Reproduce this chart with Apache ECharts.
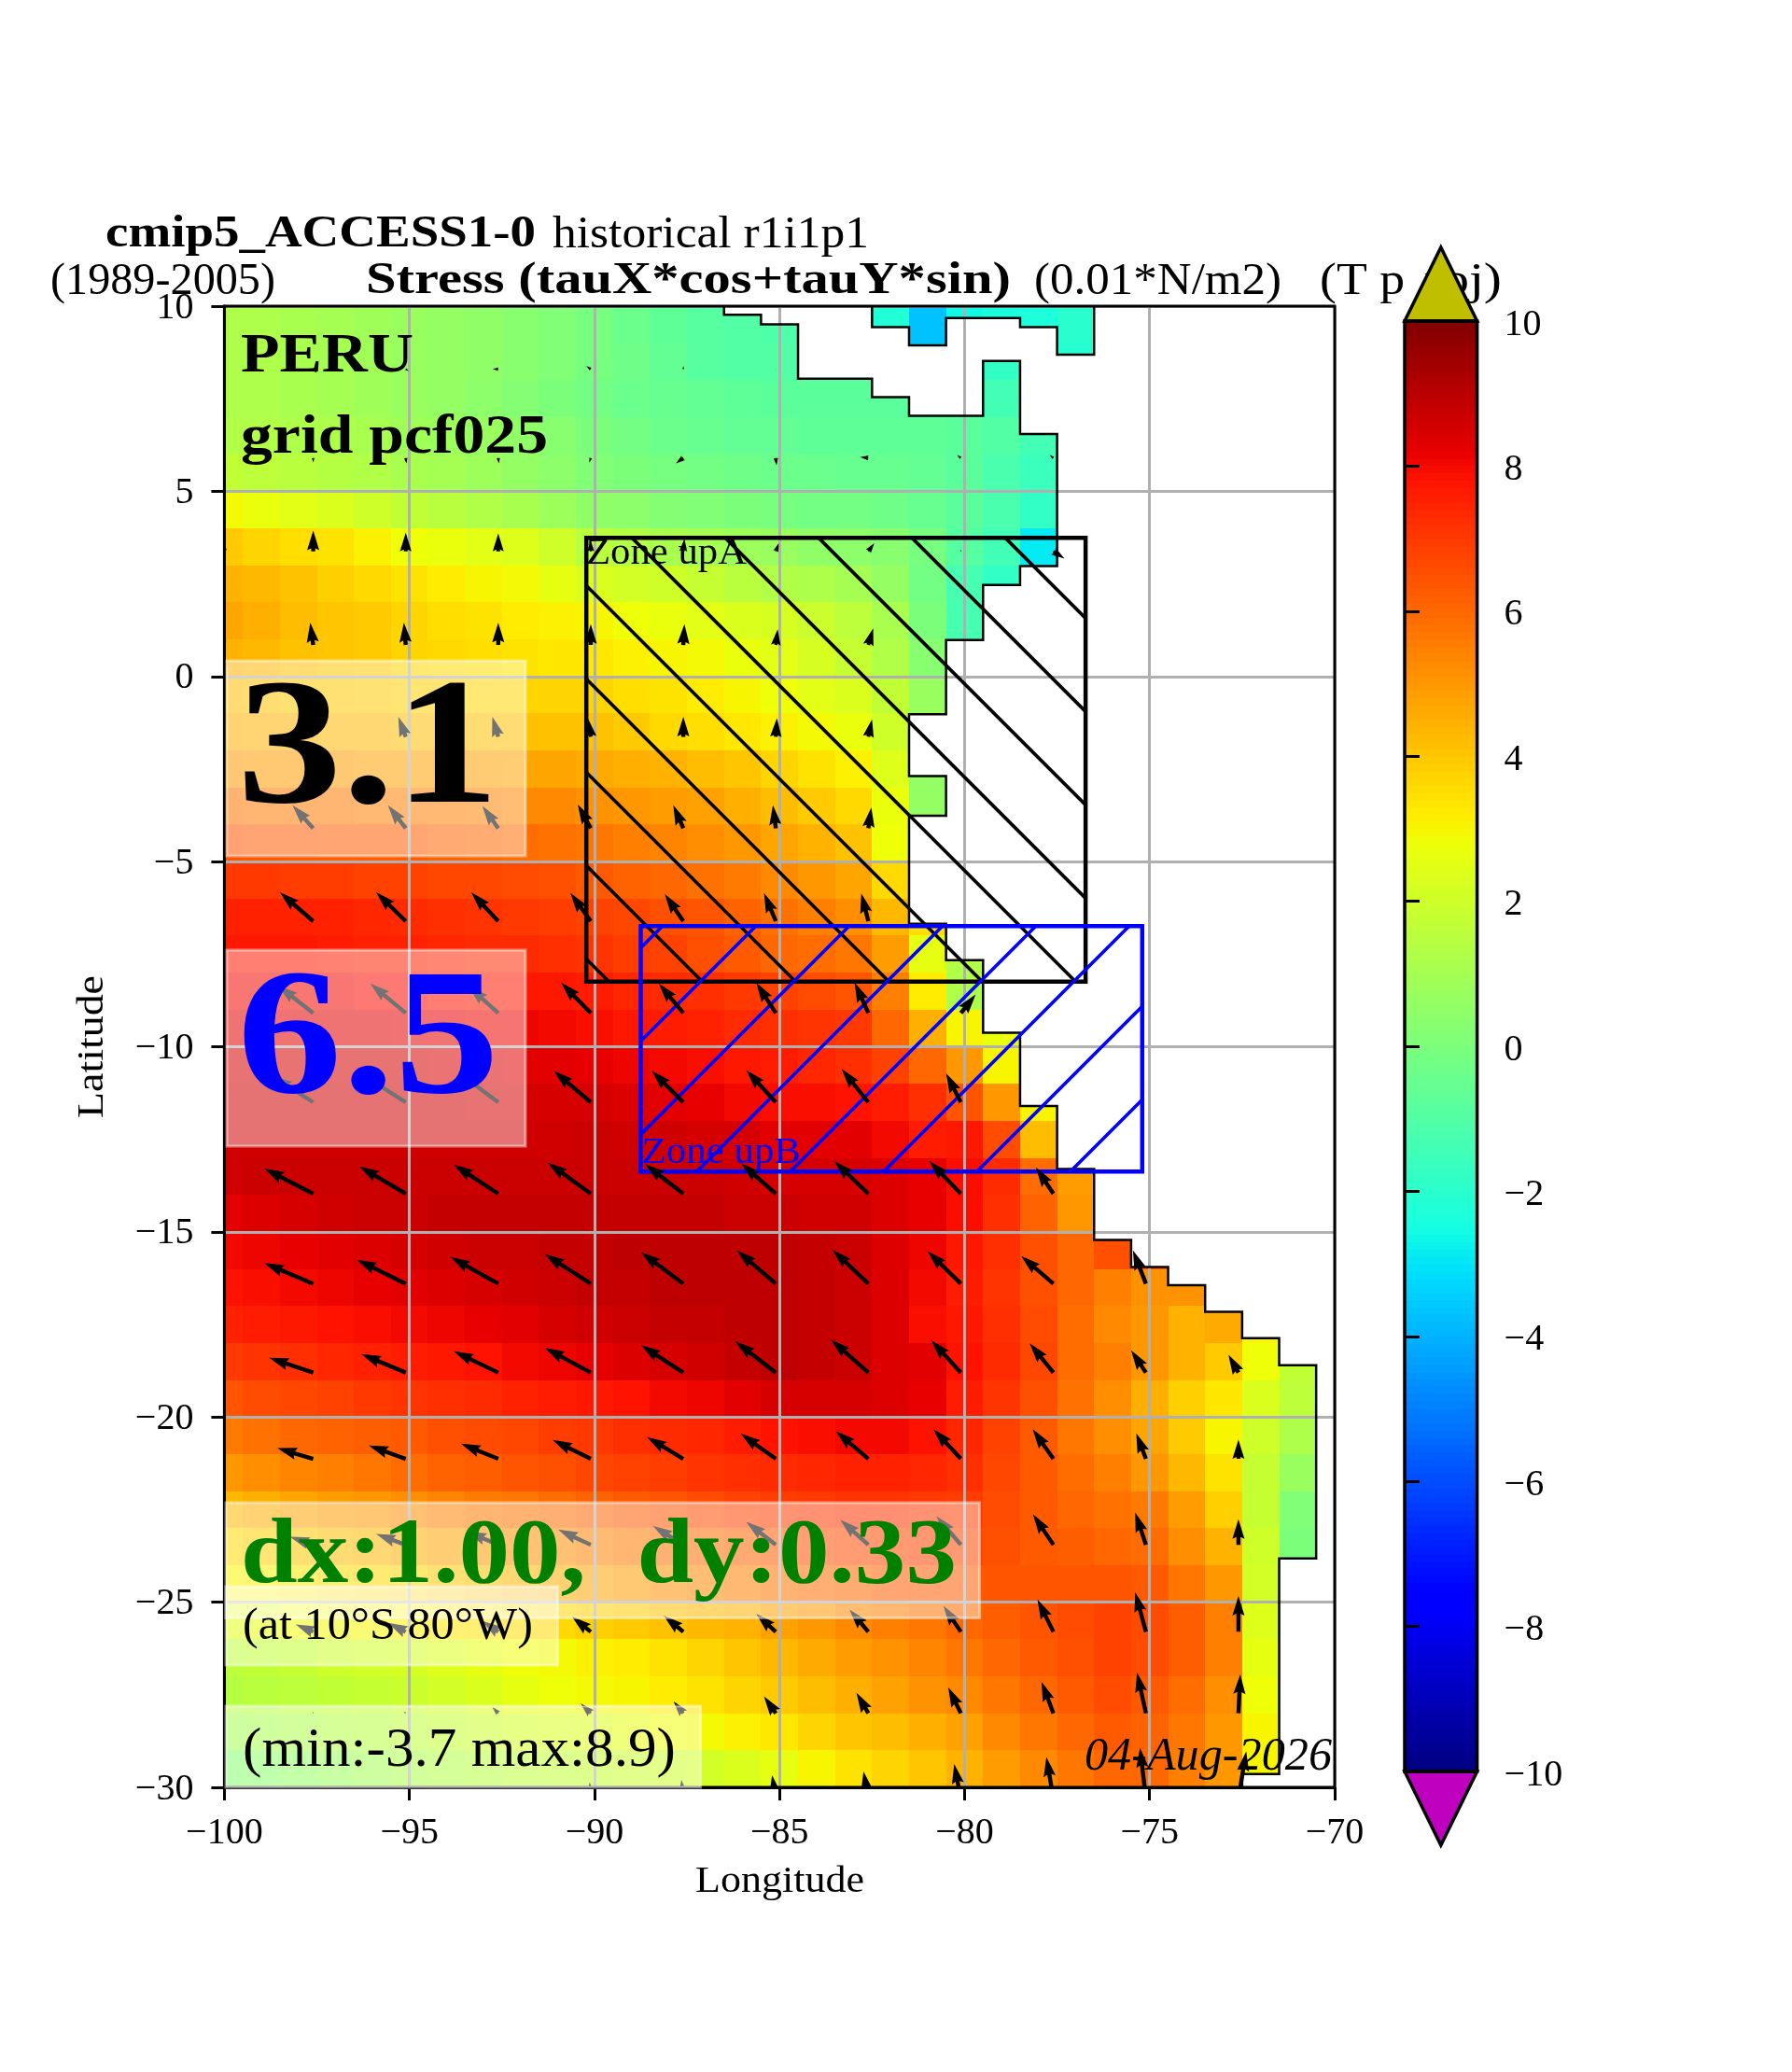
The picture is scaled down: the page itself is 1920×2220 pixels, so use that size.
<!DOCTYPE html>
<html><head><meta charset="utf-8">
<style>html,body{margin:0;padding:0;background:#fff}#c{width:1920px;height:2220px}</style>
<script src="https://cdn.jsdelivr.net/npm/echarts@6/dist/echarts.min.js"></script>
</head><body><div id="c"></div>
<script>
var N = null;
// field: rows from north to south, columns lon -100 ... -71 (1 degree cells)
var fieldLon = [-100,-99,-98,-97,-96,-95,-94,-93,-92,-91,-90,-89,-88,-87,-86,-85,-84,-83,-82,-81,-80,-79,-78,-77,-76,-75,-74,-73,-72,-71];
var fieldLat = [9.5,8.5,7.5,6.5,5.5,4.5,3.5,2.5,1.5,0.5,-0.5,-1.5,-2.5,-3.5,-4.5,-5.5,-6.5,-7.5,-8.5,-9.5,-10.5,-11.5,-12.5,-13.5,-14.5,-15.5,-16.5,-17.5,-18.5,-19.5,-20.5,-21.5,-22.5,-23.5,-24.5,-25.5,-26.5,-27.5,-28.5,-29.5];
var fieldValues = [
[1.2,1.2,1.1,1.0,0.9,0.7,0.6,0.5,0.3,0.1,-0.1,-0.4,-0.7,-0.9,-1.0,-1.1,N,N,-2.2,-3.7,-2.6,-2.4,-2.3,-2.0,N,N,N,N,N,N],
[1.2,1.2,1.1,1.0,0.9,0.7,0.6,0.5,0.3,0.1,-0.1,-0.3,-0.6,-0.9,-1.0,-1.0,N,N,N,-3.5,N,-1.8,N,-2.1,N,N,N,N,N,N],
[1.2,1.2,1.1,1.0,0.9,0.7,0.6,0.4,0.2,0,-0.2,-0.4,-0.5,-0.6,-0.7,-0.8,-0.8,-0.8,-0.8,-0.8,-0.8,-1.4,N,N,N,N,N,N,N,N],
[1.3,1.3,1.2,1.2,1.1,0.9,0.8,0.7,0.5,0.3,0,-0.2,-0.4,-0.5,-0.6,-0.6,-0.7,-0.7,-0.7,-0.7,-0.8,-1.0,-1.4,N,N,N,N,N,N,N],
[1.7,1.6,1.5,1.4,1.3,1.1,1.0,0.8,0.6,0.4,0.1,0,-0.1,-0.2,-0.3,-0.4,-0.4,-0.5,-0.5,-0.6,-0.8,-1.2,-1.6,N,N,N,N,N,N,N],
[2.9,2.7,2.5,2.3,2.0,1.7,1.5,1.3,1.1,0.8,0.5,0.4,0.2,0.1,0,-0.1,-0.2,-0.2,-0.3,-0.5,-0.8,-1.2,-1.8,N,N,N,N,N,N,N],
[3.9,3.7,3.5,3.4,3.1,2.8,2.7,2.5,2.4,2.0,1.5,1.3,1.1,1.0,0.8,0.7,0.5,0.4,0.3,-0.1,-0.9,-1.4,-2.9,N,N,N,N,N,N,N],
[4.4,4.3,4.1,3.8,3.6,3.4,3.2,3.0,2.9,2.6,2.3,2.1,2.0,1.8,1.5,1.3,1.2,1.0,0.6,-0.2,-1.3,-1.8,-2.2,N,N,N,N,N,N,N],
[4.7,4.5,4.2,4.0,3.9,3.7,3.5,3.4,3.2,3.1,3.0,2.8,2.7,2.5,2.3,2.2,1.9,1.6,1.1,0,-1.3,N,N,N,N,N,N,N,N,N],
[4.4,4.3,4.1,4.0,3.9,3.7,3.6,3.5,3.4,3.3,3.3,3.1,3.0,2.9,2.7,2.5,2.2,1.8,1.3,0.3,-1.5,N,N,N,N,N,N,N,N,N],
[4.2,4.1,4.0,4.0,3.9,3.8,3.8,3.7,3.7,3.7,3.7,3.5,3.4,3.2,3.0,2.8,2.5,2.3,1.7,0.7,N,N,N,N,N,N,N,N,N,N],
[4.5,4.4,4.4,4.3,4.3,4.2,4.2,4.1,4.1,4.1,4.1,3.9,3.6,3.5,3.3,3.1,2.9,2.7,2.0,N,N,N,N,N,N,N,N,N,N,N],
[5.0,4.9,4.9,4.9,4.8,4.8,4.8,4.8,4.7,4.7,4.6,4.5,4.4,4.2,4.0,3.7,3.4,3.1,2.4,0.6,N,N,N,N,N,N,N,N,N,N],
[5.7,5.6,5.6,5.6,5.5,5.5,5.5,5.4,5.3,5.3,5.1,5.0,4.9,4.8,4.5,4.2,3.9,3.6,2.7,0.6,N,N,N,N,N,N,N,N,N,N],
[6.4,6.3,6.3,6.2,6.2,6.2,6.1,6.0,5.9,5.8,5.7,5.5,5.4,5.2,5.0,4.7,4.4,4.1,2.8,N,N,N,N,N,N,N,N,N,N,N],
[7.0,7.0,6.9,6.9,6.8,6.8,6.7,6.7,6.6,6.5,6.3,6.1,6.0,5.8,5.6,5.3,5.0,4.7,3.6,N,N,N,N,N,N,N,N,N,N,N],
[7.5,7.5,7.5,7.5,7.4,7.3,7.2,7.1,7.0,6.9,6.8,6.7,6.5,6.4,6.1,5.8,5.5,5.2,4.3,3.5,N,N,N,N,N,N,N,N,N,N],
[7.7,7.7,7.7,7.6,7.5,7.5,7.4,7.3,7.3,7.2,7.1,6.9,6.8,6.5,6.3,6.0,5.9,5.7,4.9,2.6,1.3,N,N,N,N,N,N,N,N,N],
[8.0,8.0,8.0,8.0,7.9,7.9,7.8,7.7,7.7,7.7,7.6,7.4,7.3,7.2,7.0,6.8,6.6,6.4,5.5,3.2,1.2,N,N,N,N,N,N,N,N,N],
[8.3,8.3,8.3,8.3,8.3,8.2,8.2,8.1,8.1,8.0,7.9,7.7,7.6,7.5,7.3,7.2,7.1,7.0,6.0,4.5,3.0,2.7,N,N,N,N,N,N,N,N],
[8.5,8.5,8.5,8.5,8.5,8.5,8.4,8.4,8.3,8.3,8.2,8.1,8.0,7.9,7.7,7.6,7.4,7.2,6.8,6.0,5.0,3.0,N,N,N,N,N,N,N,N],
[8.6,8.6,8.6,8.6,8.6,8.6,8.6,8.5,8.5,8.5,8.5,8.4,8.3,8.2,8.0,7.9,7.9,7.8,7.6,7.2,6.4,5.0,3.0,N,N,N,N,N,N,N],
[8.6,8.6,8.6,8.6,8.6,8.6,8.6,8.6,8.6,8.6,8.7,8.6,8.6,8.5,8.5,8.3,8.3,8.3,8.0,7.6,7.7,6.6,4.2,N,N,N,N,N,N,N],
[8.6,8.7,8.7,8.7,8.7,8.7,8.7,8.7,8.7,8.7,8.7,8.7,8.7,8.7,8.6,8.5,8.5,8.5,8.4,8.2,7.9,7.3,5.9,4.9,N,N,N,N,N,N],
[8.3,8.4,8.5,8.6,8.7,8.7,8.8,8.8,8.8,8.8,8.8,8.8,8.8,8.8,8.7,8.7,8.6,8.6,8.4,8.2,7.9,7.2,6.1,5.0,N,N,N,N,N,N],
[8.0,8.1,8.2,8.3,8.4,8.5,8.6,8.7,8.7,8.8,8.8,8.9,8.9,8.9,8.9,8.9,8.8,8.7,8.4,8.1,7.7,7.2,6.5,6.0,6.5,6.4,N,N,N,N],
[7.8,7.9,8.0,8.1,8.2,8.3,8.4,8.5,8.6,8.7,8.8,8.8,8.9,8.9,8.9,8.9,8.8,8.7,8.4,8.0,7.6,7.1,6.5,6.0,5.5,5.1,5.1,N,N,N],
[7.5,7.6,7.7,7.8,7.9,8.0,8.1,8.2,8.3,8.5,8.6,8.7,8.8,8.8,8.9,8.9,8.8,8.7,8.4,7.9,7.7,7.2,6.6,5.9,5.3,5.0,4.4,4.6,3.0,N],
[7.0,7.1,7.2,7.4,7.5,7.6,7.7,7.8,8.0,8.1,8.2,8.4,8.5,8.6,8.8,8.9,8.8,8.7,8.4,8.3,7.8,7.3,6.7,5.9,5.5,5.0,4.4,3.9,2.8,1.7],
[6.4,6.6,6.7,6.8,7.0,7.1,7.2,7.3,7.5,7.6,7.7,7.8,8.0,8.1,8.3,8.5,8.5,8.5,8.4,8.2,7.6,7.1,6.5,5.8,5.2,4.5,3.8,3.3,2.3,1.6],
[5.6,5.8,6.0,6.1,6.2,6.3,6.5,6.6,6.7,6.9,7.0,7.2,7.3,7.4,7.6,7.8,7.9,8.0,8.0,7.8,7.4,6.8,6.3,5.7,5.2,4.7,3.9,3.0,2.0,1.2],
[5.0,5.2,5.4,5.5,5.7,5.9,6.1,6.2,6.4,6.5,6.7,6.8,6.9,7.1,7.2,7.3,7.4,7.5,7.5,7.4,7.2,6.7,6.3,5.9,5.5,5.0,4.3,3.4,1.8,0.7],
[4.3,4.5,4.7,4.9,5.0,5.2,5.4,5.6,5.7,5.9,6.1,6.3,6.4,6.6,6.8,6.9,7.0,7.1,7.1,7.0,6.9,6.6,6.3,6.0,5.8,5.6,4.9,3.8,1.8,0.1],
[3.6,3.8,4.0,4.2,4.3,4.5,4.7,4.9,5.1,5.2,5.4,5.6,5.8,5.9,6.1,6.3,6.5,6.6,6.7,6.8,6.7,6.5,6.3,6.2,6.0,5.9,5.2,4.4,2.0,0],
[3.0,3.1,3.3,3.5,3.6,3.7,3.9,4.1,4.3,4.5,4.7,4.9,5.1,5.3,5.5,5.7,5.9,6.0,6.2,6.3,6.3,6.4,6.4,6.4,6.4,6.3,5.7,5.0,2.1,N],
[2.5,2.6,2.8,2.9,3.0,3.1,3.3,3.4,3.5,3.6,3.8,3.9,4.1,4.3,4.4,4.8,5.0,5.3,5.5,5.7,6.0,6.2,6.4,6.6,6.8,6.6,6.2,5.5,2.4,N],
[1.6,1.7,1.8,2.0,2.1,2.2,2.4,2.6,2.8,2.9,3.1,3.2,3.4,3.7,4.0,4.3,4.6,4.9,5.1,5.4,5.7,6.0,6.3,6.5,6.8,6.6,6.2,5.5,2.6,N],
[1.4,1.5,1.6,1.7,1.8,1.9,2.1,2.3,2.6,2.8,2.9,3.0,3.2,3.4,3.7,3.9,4.2,4.5,4.8,5.1,5.3,5.7,6.0,6.3,6.6,6.3,5.9,5.2,2.8,N],
[1.0,1.1,1.2,1.4,1.5,1.6,1.8,2.0,2.2,2.3,2.4,2.6,2.8,2.9,3.1,3.3,3.7,4.0,4.2,4.5,4.8,5.3,5.7,6.0,6.3,6.1,5.7,5.0,3.0,N],
[0.3,0.4,0.6,0.8,1.0,1.2,1.3,1.5,1.6,1.7,1.8,1.9,2.0,2.1,2.3,2.6,3.0,3.4,3.7,4.0,4.4,4.9,5.3,5.7,6.0,6.0,5.5,5.0,3.0,N]
];
// coast: land edge of the ocean field
var coastLon = [-86.5,-86.5,-85.5,-85.5,-84.5,-84.5,-82.5,-82.5,-81.5,-81.5,-79.5,-79.5,-78.5,-78.5,-77.5,-77.5,-78.5,-78.5,-79.5,-79.5,-80.5,-80.5,-81.5,-81.5,-80.5,-80.5,-81.5,-81.5,-80.5,-80.5,-79.5,-79.5,-78.5,-78.5,-77.5,-77.5,-76.5,-76.5,-75.5,-75.5,-74.5,-74.5,-73.5,-73.5,-72.5,-72.5,-71.5,-71.5,-70.5,-70.5,-71.5,-71.5,-72.5,-72.5];
var coastLat = [10,9.77,9.77,9.51,9.51,8.04,8.04,7.54,7.54,7.04,7.04,8.52,8.52,6.55,6.55,2.98,2.98,2.47,2.47,0.98,0.98,-1.02,-1.02,-2.69,-2.69,-3.76,-3.76,-6.68,-6.68,-7.66,-7.66,-9.62,-9.62,-11.6,-11.6,-13.3,-13.3,-15.22,-15.22,-15.95,-15.95,-16.44,-16.44,-17.16,-17.16,-17.87,-17.87,-18.6,-18.6,-23.82,-23.82,-29.64,-29.64,-30];
var islandLon = [-82.5,-82.5,-81.5,-81.5,-80.5,-80.5,-78.5,-78.5,-77.5,-77.5,-76.5,-76.5];
var islandLat = [10,9.43,9.43,8.94,8.94,9.68,9.68,9.43,9.43,8.69,8.69,10];
// wind stress arrows: tail position and components in degrees
var quiverLon = [-100.1,-97.6,-95.1,-92.6,-90.1,-87.6,-85.1,-82.6,-80.1,-77.6,-75.1,-72.6];
var quiverLat = [8.3,5.9,3.38,0.85,-1.63,-4.1,-6.61,-9.09,-11.5,-13.97,-16.4,-18.8,-21.13,-23.45,-25.8,-28,-30.3];
var quiverU = [
[N,0.1,0.08,-0.15,-0.12,0,0,N,N,N,N,N],
[0,0,0.02,0.02,-0.04,-0.2,0.02,-0.22,-0.1,-0.1,N,N],
[0,0,0,0,0,0.03,0.08,0.16,0,0.3,N,N],
[-0.08,-0.08,-0.05,0,0,0.03,0.05,0.13,N,N,N,N],
[-0.2,-0.2,-0.2,-0.16,-0.08,0,0.03,0.1,N,N,N,N],
[-0.6,-0.56,-0.48,-0.43,-0.35,-0.27,-0.08,0.08,N,N,N,N],
[-0.9,-0.9,-0.8,-0.73,-0.55,-0.5,-0.32,-0.19,N,N,N,N],
[-0.95,-0.95,-0.96,-0.8,-0.8,-0.66,-0.53,-0.37,0.4,N,N,N],
[-1.1,-1.1,-1.1,-1.08,-1,-0.85,-0.8,-0.72,-0.4,N,N,N],
[-1.3,-1.32,-1.25,-1.2,-1.16,-1.03,-0.93,-0.92,-0.85,-0.47,N,N],
[-1.3,-1.32,-1.32,-1.29,-1.24,-1.14,-1.05,-0.97,-0.9,-0.87,-0.35,N],
[-1.2,-1.19,-1.2,-1.2,-1.24,-1.14,-1.09,-1.01,-0.8,-0.64,-0.4,-0.27],
[-0.97,-0.97,-1,-1.01,-1.03,-0.98,-0.95,-0.88,-0.74,-0.56,-0.26,0],
[-0.6,-0.63,-0.8,-0.85,-0.88,-0.82,-0.8,-0.76,-0.66,-0.55,-0.29,0],
[-0.4,-0.47,-0.48,-0.43,-0.51,-0.53,-0.53,-0.51,-0.47,-0.43,-0.29,0],
[0,0,-0.05,-0.16,-0.27,-0.26,-0.32,-0.32,-0.34,-0.32,-0.24,0.05],
[0,0,0,0,-0.03,-0.05,-0.1,-0.13,-0.18,-0.19,-0.16,0.21]
];
var quiverV = [
[N,-0.1,-0.05,0,0.08,0.08,0.02,N,N,N,N,N],
[-0.1,-0.12,-0.15,-0.15,-0.12,-0.15,-0.2,0.02,0.08,0.08,N,N],
[0.55,0.56,0.5,0.48,0.3,0.34,0.22,0.22,0.05,-0.2,N,N],
[0.6,0.6,0.6,0.6,0.56,0.56,0.42,0.45,N,N,N,N],
[0.5,0.45,0.54,0.54,0.5,0.54,0.5,0.47,N,N,N,N],
[0.62,0.62,0.62,0.6,0.64,0.62,0.62,0.56,N,N,N,N],
[0.78,0.78,0.78,0.78,0.76,0.73,0.76,0.75,N,N,N,N],
[0.74,0.74,0.8,0.72,0.82,0.8,0.82,0.82,0.5,N,N,N],
[0.7,0.7,0.7,0.8,0.85,0.85,0.87,0.9,0.78,N,N,N],
[0.65,0.68,0.74,0.79,0.84,0.8,0.82,0.88,0.88,0.71,N,N],
[0.55,0.56,0.65,0.72,0.8,0.85,0.9,0.92,0.88,0.75,0.9,N],
[0.4,0.4,0.5,0.58,0.67,0.74,0.84,0.89,0.87,0.79,0.6,0.48],
[0.25,0.29,0.36,0.41,0.51,0.59,0.68,0.75,0.8,0.8,0.69,0.52],
[0.2,0.22,0.29,0.36,0.41,0.51,0.62,0.68,0.77,0.82,0.87,0.69],
[0.15,0.2,0.24,0.29,0.41,0.44,0.49,0.6,0.7,0.87,1.07,0.97],
[0.03,0.05,0.05,0.17,0.26,0.32,0.46,0.55,0.7,0.85,1.1,1.05],
[0.1,0.15,0.2,0.3,0.44,0.5,0.63,0.73,0.93,1.12,1.37,1.27]
];
var zoneALon = [-90.22,-76.73], zoneALat = [-8.24,3.74];
var zoneBLon = [-88.75,-75.2], zoneBLat = [-13.37,-6.74];
var xTicks = [-100,-95,-90,-85,-80,-75,-70];
var yTicks = [-30,-25,-20,-15,-10,-5,0,5,10];
var colorbarTicks = [-10,-8,-6,-4,-2,0,2,4,6,8,10];

var FONT = '"Liberation Serif"';
function seg(p,t){for(var i=1;i<p.length;i++){if(t<=p[i][0]){var a=p[i-1],b=p[i];return a[1]+(b[1]-a[1])*(t-a[0])/(b[0]-a[0]);}}return p[p.length-1][1];}
var JR=[[0,0],[.35,0],[.66,1],[.89,1],[1,.5]],JG=[[0,0],[.125,0],[.375,1],[.64,1],[.91,0],[1,0]],JB=[[0,.5],[.11,1],[.34,1],[.65,0],[1,0]];
function jet(v){var t=Math.max(0,Math.min(1,(v+10)/20));return 'rgb('+Math.round(255*seg(JR,t))+','+Math.round(255*seg(JG,t))+','+Math.round(255*seg(JB,t))+')';}

var fieldData=[];
fieldValues.forEach(function(r,i){r.forEach(function(v,j){if(v!==null)fieldData.push([fieldLon[j],fieldLat[i],v]);});});
var quiverData=[];
quiverU.forEach(function(r,i){r.forEach(function(u,j){if(u!==null)quiverData.push([quiverLon[j],quiverLat[i],u,quiverV[i][j]]);});});
var cbLevels=[];for(var k=0;k<200;k++)cbLevels.push([0,-10+k*0.1]);

function pts(lons,lats,api){return lons.map(function(x,i){return api.coord([x,lats[i]]);});}
function renderCell(p,api){
  var lon=api.value(0),lat=api.value(1),a=api.coord([lon-.5,lat+.5]),b=api.coord([lon+.5,lat-.5]);
  var x=Math.round(a[0]),y=Math.round(a[1]);
  return {type:'rect',shape:{x:x,y:y,width:Math.round(b[0])-x,height:Math.round(b[1])-y},style:{fill:jet(api.value(2))}};
}
function renderLand(p,api){
  var P=pts(coastLon,coastLat,api);
  P=P.concat([api.coord([-70,-30]),api.coord([-70,10])]);
  P=P.concat(pts(islandLon.slice().reverse(),islandLat.slice().reverse(),api));
  return {type:'polygon',shape:{points:P},style:{fill:'#fff'}};
}
function renderCoast(p,api){
  return {type:'group',children:[
    {type:'polyline',shape:{points:pts(coastLon,coastLat,api)},style:{fill:'none',stroke:'#000',lineWidth:2.5}},
    {type:'polyline',shape:{points:pts(islandLon,islandLat,api)},style:{fill:'none',stroke:'#000',lineWidth:2.5}}
  ]};
}
function renderArrow(p,api){
  var a=api.coord([api.value(0),api.value(1)]),b=api.coord([api.value(0)+api.value(2),api.value(1)+api.value(3)]);
  var dx=b[0]-a[0],dy=b[1]-a[1],L=Math.sqrt(dx*dx+dy*dy);if(L<0.5)return null;
  var w=4.4,hl=21,hw=13,ax=19,s=Math.min(1,L/hl);
  w*=s;hl*=s;hw*=s;ax*=s;
  var ux=dx/L,uy=dy/L,nx=-uy,ny=ux;
  function P(d,n){return [a[0]+ux*d+nx*n,a[1]+uy*d+ny*n];}
  return {type:'polygon',shape:{points:[P(0,w/2),P(L-ax,w/2),P(L-hl,hw/2),P(L,0),P(L-hl,-hw/2),P(L-ax,-w/2),P(0,-w/2)]},style:{fill:'#000'}};
}
function zoneRenderer(lons,lats,color,dir,lw){
  return function(p,api){
    var a=api.coord([lons[0],lats[1]]),b=api.coord([lons[1],lats[0]]);
    var x0=a[0],y0=a[1],x1=b[0],y1=b[1],kids=[],pitch=100,off=86;
    var c,k;
    for(k=-30;k<30;k++){
      var s,e;
      if(dir<0){c=y0+off-x1+pitch*k;s=Math.max(x0,y0-c);e=Math.min(x1,y1-c);if(s<e)kids.push({type:'line',shape:{x1:s,y1:s+c,x2:e,y2:e+c},style:{stroke:color,lineWidth:3.6}});}
      else{c=y0+off+x1+pitch*k;s=Math.max(x0,c-y1);e=Math.min(x1,c-y0);if(s<e)kids.push({type:'line',shape:{x1:s,y1:c-s,x2:e,y2:c-e},style:{stroke:color,lineWidth:3.6}});}
    }
    kids.push({type:'rect',shape:{x:x0,y:y0,width:x1-x0,height:y1-y0},style:{fill:'none',stroke:color,lineWidth:lw}});
    return {type:'group',children:kids};
  };
}
function renderFrame(p,api){
  var a=api.coord([-100,10]),b=api.coord([-70,-30]);
  return {type:'rect',shape:{x:a[0],y:a[1],width:b[0]-a[0],height:b[1]-a[1]},style:{fill:'none',stroke:'#000',lineWidth:3}};
}
function renderCb(p,api){
  var v=api.value(1),a=api.coord([0,v+0.1]),b=api.coord([1,v]),y=Math.round(a[1]);
  return {type:'rect',shape:{x:a[0],y:y,width:b[0]-a[0],height:Math.round(b[1])-y},style:{fill:jet(v+0.05)}};
}
function renderCbFrame(p,api){
  function tri(base,tip,col){var A=api.coord([0,base]),B=api.coord([1,base]),C=api.coord([.5,tip]);
    return {type:'polygon',shape:{points:[A,B,C]},style:{fill:col,stroke:'#000',lineWidth:3.5,lineJoin:'miter'}};}
  var a=api.coord([0,10]),b=api.coord([1,-10]);
  return {type:'group',children:[
    tri(10,11.017,'#bfbf00'),tri(-10,-11.017,'#bf00bf'),
    {type:'rect',shape:{x:a[0],y:a[1],width:b[0]-a[0],height:b[1]-a[1]},style:{fill:'none',stroke:'#000',lineWidth:3.5}}
  ]};
}
var mctx=document.createElement('canvas').getContext('2d');
function T(str,x0,x1,base,size,o){
  o=o||{};
  var font=(o.italic?'italic ':'')+(o.bold?'bold ':'')+size+'px '+FONT;
  mctx.font=font;
  var w=mctx.measureText(str).width;
  return {type:'text',x:x0,y:base,z:o.z===undefined?30:o.z,scaleX:(x1-x0)/w,silent:true,
    style:{text:str,x:0,y:-0.27*size,font:font,fill:o.color||'#000',align:'left',verticalAlign:'middle'}};
}
function box(x0,y0,x1,y1){return {type:'rect',z:20,silent:true,shape:{x:x0,y:y0,width:x1-x0,height:y1-y0},
  style:{fill:'rgba(255,255,255,0.45)',stroke:'rgba(255,255,255,0.45)',lineWidth:3}};}
var lat=T('Latitude',0,153,0,41,{z:1});lat.x=110;lat.y=1198;lat.rotation=Math.PI/2;
var graphics=[
  T('cmip5_ACCESS1-0',113,574,265,48,{bold:true,z:1}),
  T('historical r1i1p1',592,931,265,48,{z:1}),
  T('(1989-2005)',54,295,315,48,{z:1}),
  T('Stress (tauX*cos+tauY*sin)',392,1083,315,48,{bold:true,z:1}),
  T('(0.01*N/m2)',1108,1373,315,48,{z:1}),
  T('(T p',1414,1505,315,48,{z:1}),
  T('roj)',1526,1609,315,48,{z:1}),
  lat,
  T('Longitude',745,926,2027,41,{z:1}),
  box(243,708,563,917),box(243,1018,563,1228),box(242,1610,1049.5,1733.5),box(242,1700,597.6,1784),box(242,1828,750.6,1915),
  T('PERU',258,443,398.6,60,{bold:true}),
  T('grid pcf025',258,587,486,60,{bold:true}),
  T('3.1',254,535,861,192,{bold:true}),
  T('6.5',254,535,1172.5,192,{bold:true,color:'#0000ff'}),
  T('dx:1.00,  dy:0.33',258,1025,1696,100,{bold:true,color:'#008000'}),
  T('(at 10°S 80°W)',260,571,1756,48),
  T('(min:-3.7 max:8.9)',260,724,1892,60),
  T('04-Aug-2026',1162,1427,1896,50,{italic:true}),
  T('Zone upA',628,800,604,40),
  T('Zone upB',687.5,858,1246,40,{color:'#0000ff'})
];
function minus(v){return String(v).replace('-','\u2212');}
var chart=echarts.init(document.getElementById('c'),null,{renderer:'canvas',width:1920,height:2220});
function customBase(o){var b={type:'custom',coordinateSystem:'cartesian2d',animation:false,silent:true,xAxisIndex:0,yAxisIndex:0,clip:true,encode:{x:0,y:1},progressive:0};for(var k in o)b[k]=o[k];return b;}
chart.setOption({
  animation:false,backgroundColor:'#fff',
  grid:[{left:240.4,top:328,width:1189.6,height:1587,containLabel:false},{left:1505,top:344,width:77.6,height:1554,containLabel:false}],
  xAxis:[
    {type:'value',min:xTicks[0],max:xTicks[xTicks.length-1],interval:5,z:3,
      axisLine:{show:true,onZero:false,lineStyle:{color:'#000',width:3}},axisTick:{show:true,length:14,lineStyle:{color:'#000',width:3}},
      axisLabel:{show:true,fontFamily:FONT,fontSize:40,color:'#000',margin:29,formatter:minus},
      splitLine:{show:true,lineStyle:{color:'#b0b0b0',width:3}}},
    {type:'value',gridIndex:1,min:0,max:1,show:false}
  ],
  yAxis:[
    {type:'value',min:yTicks[0],max:yTicks[yTicks.length-1],interval:5,z:3,
      axisLine:{show:true,onZero:false,lineStyle:{color:'#000',width:3}},axisTick:{show:true,length:14,lineStyle:{color:'#000',width:3}},
      axisLabel:{show:true,fontFamily:FONT,fontSize:40,color:'#000',margin:33,verticalAlign:'top',lineHeight:4,formatter:minus},
      splitLine:{show:true,lineStyle:{color:'#b0b0b0',width:3}}},
    {type:'value',gridIndex:1,position:'right',min:colorbarTicks[0],max:colorbarTicks[colorbarTicks.length-1],interval:2,z:7,
      axisLine:{show:false},axisTick:{show:true,length:16,lineStyle:{color:'#000',width:3}},
      axisLabel:{show:true,fontFamily:FONT,fontSize:40,color:'#000',margin:29,verticalAlign:'top',lineHeight:8,formatter:minus},
      splitLine:{show:false}}
  ],
  series:[
    customBase({name:'field',z:1,renderItem:renderCell,data:fieldData}),
    customBase({name:'land',z:2,renderItem:renderLand,data:[[0,0]]}),
    customBase({name:'coast',z:4,renderItem:renderCoast,data:[[0,0]]}),
    customBase({name:'zoneA',z:4,renderItem:zoneRenderer(zoneALon,zoneALat,'#000',-1,4.5),data:[[0,0]]}),
    customBase({name:'zoneB',z:4,renderItem:zoneRenderer(zoneBLon,zoneBLat,'#0000ff',1,4.5),data:[[0,0]]}),
    customBase({name:'stress',z:5,renderItem:renderArrow,data:quiverData}),
    customBase({name:'frame',z:6,clip:false,renderItem:renderFrame,data:[[0,0]]}),
    customBase({name:'colorbar',z:5,xAxisIndex:1,yAxisIndex:1,clip:false,renderItem:renderCb,data:cbLevels}),
    customBase({name:'colorbarFrame',z:6,zlevel:1,xAxisIndex:1,yAxisIndex:1,clip:false,renderItem:renderCbFrame,data:[[0,0]]})
  ],
  graphic:{elements:graphics}
});
</script></body></html>
